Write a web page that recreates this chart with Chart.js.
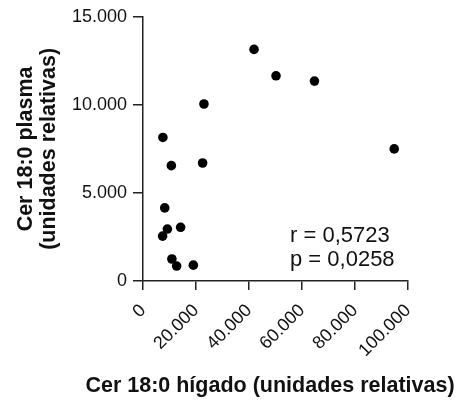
<!DOCTYPE html>
<html>
<head>
<meta charset="utf-8">
<script src="https://cdn.jsdelivr.net/npm/chart.js@4/dist/chart.umd.min.js"></script>
<style>
  html, body { margin: 0; padding: 0; background: #fff; }
  #wrap { width: 466px; height: 401px; }
</style>
</head>
<body>
<div id="wrap"><canvas id="cer-corr"></canvas></div>
<script>
// Cer 18:0 liver vs plasma, one point per subject
const liverCer = [41900, 50200, 64700, 23000, 7500, 10700, 22500, 94800, 8200, 9200, 7400, 14200, 10900, 12700, 19000];
const plasmaCer = [13150, 11650, 11350, 10050, 8150, 6550, 6700, 7500, 4150, 2950, 2550, 3050, 1250, 850, 900];

const xTicks = [0, 20000, 40000, 60000, 80000, 100000];
const yTicks = [0, 5000, 10000, 15000];

const xTitle = 'Cer 18:0 hígado (unidades relativas)';
const yTitle = ['Cer 18:0 plasma', '(unidades relativas)'];
const statLines = ['r = 0,5723', 'p = 0,0258'];

const FONT = '"Liberation Sans", Arial, Helvetica, sans-serif';
const INK = '#111';
const AXIS = '#222';

// 20000 -> "20.000"
const fmt = (v) => String(v).replace(/\B(?=(\d{3})+(?!\d))/g, '.');

// Correlation text and the x title (drawn by hand so the title isn't squeezed to the plot width)
const extraText = {
  id: 'extraText',
  afterDraw(chart) {
    const { ctx, chartArea } = chart;
    ctx.save();
    ctx.fillStyle = INK;
    ctx.textBaseline = 'alphabetic';

    ctx.font = `22px ${FONT}`;
    ctx.textAlign = 'left';
    statLines.forEach((line, i) => {
      ctx.fillText(line, chartArea.left + 147, chartArea.top + 225 + i * 24);
    });

    ctx.font = `bold 21.5px ${FONT}`;
    ctx.textAlign = 'center';
    ctx.fillText(xTitle, chartArea.left + 127, chart.height - 9);
    ctx.restore();
  },
};

const ctx = document.getElementById('cer-corr');
new Chart(ctx, {
  type: 'scatter',
  data: {
    datasets: [{
      data: liverCer.map((x, i) => ({ x, y: plasmaCer[i] })),
      backgroundColor: '#000',
      borderWidth: 0,
      pointRadius: 4.8,
      pointHoverRadius: 4.8,
    }],
  },
  options: {
    responsive: true,
    maintainAspectRatio: false,
    animation: false,
    layout: {
      padding: { top: 14, right: 58, left: 0, bottom: 0 },
    },
    scales: {
      x: {
        type: 'linear',
        min: 0,
        max: 100000,
        afterBuildTicks: (scale) => { scale.ticks = xTicks.map(value => ({ value })); },
        afterFit: (scale) => { scale.height = 120; },
        border: { display: true, color: AXIS, width: 1.5 },
        grid: { drawOnChartArea: false, drawTicks: true, tickLength: 9, color: AXIS, lineWidth: 1.5 },
        ticks: {
          autoSkip: false,
          maxRotation: 45,
          minRotation: 45,
          padding: 10,
          color: INK,
          font: { family: FONT, size: 18 },
          callback: (v) => fmt(v),
        },
      },
      y: {
        type: 'linear',
        min: 0,
        max: 15000,
        afterBuildTicks: (scale) => { scale.ticks = yTicks.map(value => ({ value })); },
        afterFit: (scale) => { scale.width = 143; },
        border: { display: true, color: AXIS, width: 1.5 },
        grid: { drawOnChartArea: false, drawTicks: true, tickLength: 10, color: AXIS, lineWidth: 1.5 },
        ticks: {
          padding: 6,
          color: INK,
          font: { family: FONT, size: 18 },
          callback: (v) => fmt(v),
        },
        title: {
          display: true,
          text: yTitle,
          color: INK,
          font: { family: FONT, size: 21.5, weight: 'bold', lineHeight: 1.1 },
          padding: { top: 14, bottom: 0 },
        },
      },
    },
    plugins: {
      legend: { display: false },
      tooltip: { enabled: false },
    },
  },
  plugins: [extraText],
});
</script>
</body>
</html>
